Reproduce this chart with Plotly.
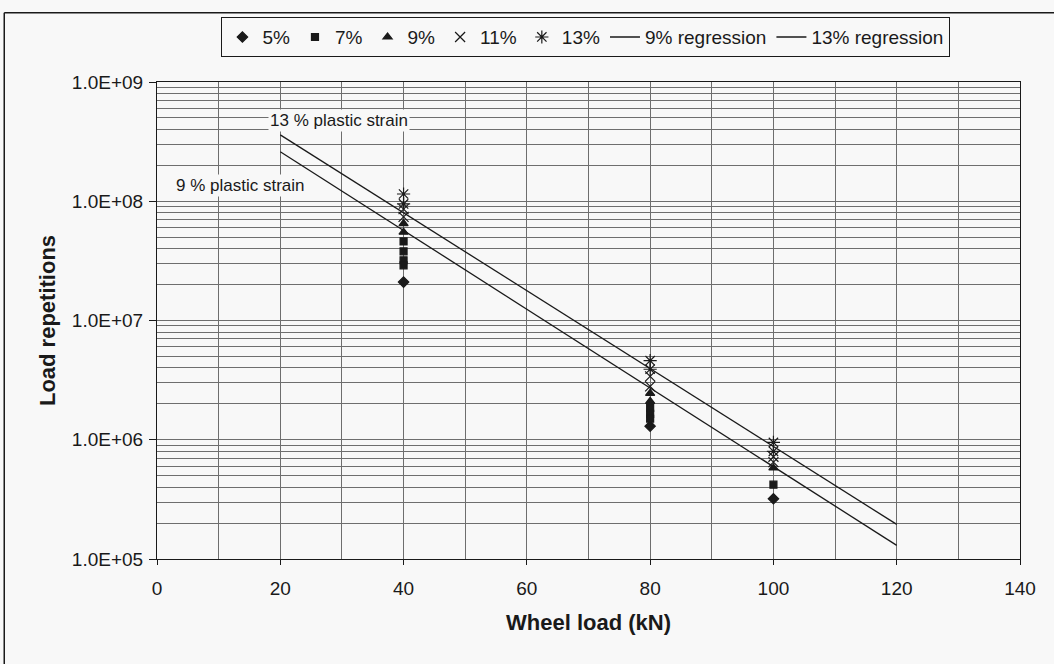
import plotly.graph_objects as go

# Test results: wheel load (kN) vs. load repetitions at each plastic strain level
loads_5 = [40, 80, 100]
reps_5 = [2.1e7, 1.3e6, 3.2e5]

loads_7 = [40, 40, 40, 40, 80, 80, 80, 100]
reps_7 = [4.6e7, 3.8e7, 3.2e7, 2.9e7, 1.85e6, 1.65e6, 1.5e6, 4.2e5]

loads_9 = [40, 40, 80, 80, 100]
reps_9 = [6.5e7, 5.5e7, 2.45e6, 2.1e6, 5.8e5]

loads_11 = [40, 40, 80, 80, 100, 100]
reps_11 = [8.6e7, 7.4e7, 3.4e6, 2.8e6, 7.2e5, 6.5e5]

loads_13 = [40, 40, 80, 80, 100, 100]
reps_13 = [1.15e8, 9.5e7, 4.6e6, 3.9e6, 9.5e5, 8.0e5]

# Regression lines (end points)
loads_reg = [20, 120]
reg_9 = [2.6e8, 1.3e5]
reg_13 = [3.6e8, 1.95e5]

y_tick_vals = [1e5, 1e6, 1e7, 1e8, 1e9]
y_tick_text = ["1.0E+05", "1.0E+06", "1.0E+07", "1.0E+08", "1.0E+09"]

FONT = "Liberation Sans, Arial, sans-serif"
INK = "#1a1a1a"
GRID = "#6e6e6e"
BG = "#f8f8f8"

fig = go.Figure()

marker_series = [
    ("5%", loads_5, reps_5, "diamond", 8),
    ("7%", loads_7, reps_7, "square", 7),
    ("9%", loads_9, reps_9, "triangle-up", 8),
    ("11%", loads_11, reps_11, "x-thin-open", 10),
    ("13%", loads_13, reps_13, "asterisk-open", 11),
]
for name, xs, ys, sym, size in marker_series:
    fig.add_trace(go.Scatter(
        x=xs, y=ys, name=name, mode="markers",
        marker=dict(symbol=sym, size=size, color=INK,
                    line=dict(color=INK, width=1.2)),
    ))

for name, ys in [("9% regression", reg_9), ("13% regression", reg_13)]:
    fig.add_trace(go.Scatter(
        x=loads_reg, y=ys, name=name, mode="lines",
        line=dict(color=INK, width=1.3),
    ))

minor_y = [m * 10 ** e for e in range(5, 9) for m in range(2, 10)]

fig.update_layout(
    width=1054, height=664,
    margin=dict(l=157, r=34, t=82, b=105),
    paper_bgcolor=BG, plot_bgcolor=BG,
    font=dict(family=FONT, size=19, color=INK),
    showlegend=True,
    legend=dict(
        orientation="h", x=0.497, xanchor="center", y=1.136, yanchor="top",
        bordercolor=INK, borderwidth=1, bgcolor=BG,
        font=dict(family=FONT, size=19, color=INK),
        itemwidth=30, tracegroupgap=0,
    ),
    xaxis=dict(
        range=[0, 140], dtick=20, tick0=0,
        showline=True, linecolor=INK, linewidth=1, mirror=True,
        ticks="outside", ticklen=5, tickcolor=INK, ticklabelstandoff=7,
        showgrid=True, gridcolor=GRID, gridwidth=1,
        minor=dict(dtick=10, showgrid=True, gridcolor=GRID, gridwidth=1),
        zeroline=False,
        title=dict(text="<b>Wheel load (kN)</b>", font=dict(size=22), standoff=16),
    ),
    yaxis=dict(
        type="log", range=[5, 9],
        tickmode="array", tickvals=y_tick_vals, ticktext=y_tick_text,
        showline=True, linecolor=INK, linewidth=1, mirror=True,
        ticks="outside", ticklen=7, tickcolor=INK, ticklabelstandoff=2,
        showgrid=True, gridcolor=GRID, gridwidth=1,
        minor=dict(tickmode="array", tickvals=minor_y, showgrid=True,
                   gridcolor=GRID, gridwidth=1),
        zeroline=False,
        title=dict(text="<b>Load repetitions</b>", font=dict(size=22), standoff=10),
    ),
)

# Labels for the two regression lines
fig.add_annotation(x=29.6, y=8.681, text="13 % plastic strain", showarrow=False,
                   font=dict(size=17), bgcolor=BG)
fig.add_annotation(x=13.6, y=8.136, text="9 % plastic strain", showarrow=False,
                   font=dict(size=17), bgcolor=BG)

# Frame around the figure
fig.add_shape(type="line", xref="paper", yref="paper",
              x0=-0.177, x1=1.1, y0=1.145, y1=1.145, line=dict(color=INK, width=1.5))
fig.add_shape(type="line", xref="paper", yref="paper",
              x0=-0.177, x1=-0.177, y0=1.145, y1=-0.3, line=dict(color=INK, width=1.5))

fig.write_html("out.html")
